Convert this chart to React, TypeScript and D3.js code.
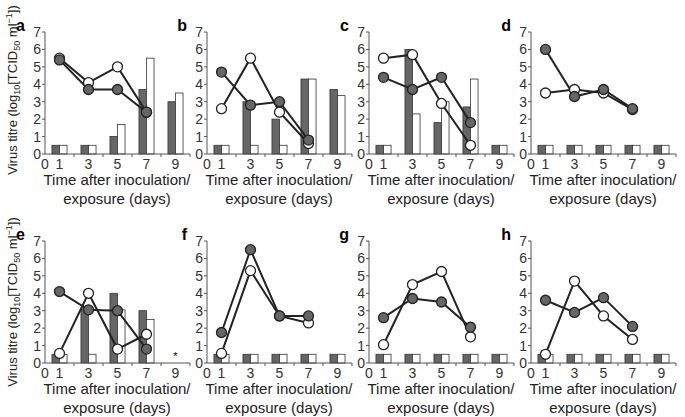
import React from 'react';
import * as d3 from 'd3';

const days = [1, 3, 5, 7, 9];
const lineDays = [1, 3, 5, 7];
const panelIds = ['a', 'b', 'c', 'd', 'e', 'f', 'g', 'h'];

// bar values per panel (dark = inoculated, white = contact); null = not measured
const darkBars: (number | null)[][] = [
  [0.5, 0.5, 1, 3.7, 3],
  [0.5, 3, 2, 4.3, 3.7],
  [0.5, 6, 1.8, 2.7, 0.5],
  [0.5, 0.5, 0.5, 0.5, 0.5],
  [0.5, 3.1, 4, 3, null],
  [0.5, 0.5, 0.5, 0.5, 0.5],
  [0.5, 0.5, 0.5, 0.5, 0.5],
  [0.5, 0.5, 0.5, 0.5, 0.5],
];
const whiteBars: (number | null)[][] = [
  [0.5, 0.5, 1.7, 5.5, 3.5],
  [0.5, 0.5, 0.5, 4.3, 3.35],
  [0.5, 2.3, 3.0, 4.3, 0.5],
  [0.5, 0.5, 0.5, 0.5, 0.5],
  [0.5, 0.5, 3.05, 2.5, null],
  [0.5, 0.5, 0.5, 0.5, 0.5],
  [0.5, 0.5, 0.5, 0.5, 0.5],
  [0.5, 0.5, 0.5, 0.5, 0.5],
];
const filledLine: number[][] = [
  [5.4, 3.7, 3.7, 2.4],
  [4.7, 2.8, 3.0, 0.8],
  [4.4, 3.7, 4.4, 1.8],
  [6.0, 3.3, 3.7, 2.6],
  [4.1, 3.05, 3.0, 0.8],
  [1.75, 6.5, 2.7, 2.7],
  [2.6, 3.7, 3.5, 2.05],
  [3.6, 2.9, 3.75, 2.1],
];
const openLine: number[][] = [
  [5.5, 4.1, 5.0, 2.4],
  [2.6, 5.5, 2.4, 0.6],
  [5.5, 5.7, 2.9, 0.5],
  [3.5, 3.7, 3.5, 2.55],
  [0.55, 4.0, 0.8, 1.65],
  [0.55, 5.3, 2.7, 2.3],
  [1.05, 4.5, 5.25, 1.5],
  [0.5, 4.7, 2.7, 1.35],
];
const xTickLabels = [0, 1, 3, 5, 7, 9];
const yTicks = [0, 1, 2, 3, 4, 5, 6, 7];

const font = 'Liberation Sans, Arial, sans-serif';
const dark = '#666';
const axisCol = '#555';

const Panel: React.FC<{ i: number }> = ({ i }) => {
  const col = i % 4;
  const row = Math.floor(i / 4);
  const ox = 45 + col * 162;
  const oy = row === 0 ? 154 : 363;
  const x = d3.scaleLinear().domain([0, 10]).range([ox, ox + 145]);
  const y = d3.scaleLinear().domain([0, 7]).range([oy, oy - 122]);
  const bw = x(0.52) - x(0);
  const line = d3.line<number>().x((_, k) => x(lineDays[k])).y(v => y(v));
  return (
    <g>
      {days.map((d, k) => {
        const dv = darkBars[i][k];
        const wv = whiteBars[i][k];
        return (
          <g key={d}>
            {dv !== null && (
              <rect x={x(d) - bw} y={y(dv)} width={bw} height={y(0) - y(dv)} fill={dark} stroke="#333" strokeWidth={0.8} />
            )}
            {wv !== null && (
              <rect x={x(d)} y={y(wv)} width={bw} height={y(0) - y(wv)} fill="#fff" stroke="#333" strokeWidth={0.8} />
            )}
          </g>
        );
      })}
      {i === 4 && (
        <text x={x(9)} y={y(0.2)} fontSize={11} textAnchor="middle" fontFamily={font}>*</text>
      )}
      <line x1={ox} x2={ox} y1={y(0)} y2={y(7)} stroke={axisCol} strokeWidth={1} />
      <line x1={ox} x2={x(10)} y1={y(0)} y2={y(0)} stroke={axisCol} strokeWidth={1} />
      {yTicks.map(t => (
        <g key={t}>
          <line x1={ox - 3} x2={ox} y1={y(t)} y2={y(t)} stroke={axisCol} />
          <text x={ox - 4} y={y(t) + 5} textAnchor="end" fontSize={14} fill="#333" fontFamily={font}>{t}</text>
        </g>
      ))}
      {[2, 4, 6, 8, 10].map(t => (
        <line key={t} x1={x(t)} x2={x(t)} y1={y(0)} y2={y(0) + 3} stroke={axisCol} />
      ))}
      {xTickLabels.map(t => (
        <text key={t} x={x(t)} y={y(0) + 15} textAnchor="middle" fontSize={14} fill="#333" fontFamily={font}>{t}</text>
      ))}
      <path d={line(openLine[i]) || ''} fill="none" stroke="#222" strokeWidth={2} />
      <path d={line(filledLine[i]) || ''} fill="none" stroke="#222" strokeWidth={2} />
      {openLine[i].map((v, k) => (
        <circle key={'o' + k} cx={x(lineDays[k])} cy={y(v)} r={5} fill="#fff" stroke="#222" strokeWidth={1.3} />
      ))}
      {filledLine[i].map((v, k) => (
        <circle key={'f' + k} cx={x(lineDays[k])} cy={y(v)} r={5} fill={dark} stroke="#222" strokeWidth={1.3} />
      ))}
      <text x={ox - 20} y={y(7) - 1} textAnchor="end" fontSize={16} fontWeight="bold" fontFamily={font}>{panelIds[i]}</text>
      <text x={ox + 72} y={y(0) + 31} textAnchor="middle" fontSize={15} fill="#222" fontFamily={font}>Time after inoculation/</text>
      <text x={ox + 72} y={y(0) + 50} textAnchor="middle" fontSize={15} fill="#222" fontFamily={font}>exposure (days)</text>
    </g>
  );
};

const YLabel: React.FC<{ cy: number }> = ({ cy }) => (
  <text transform={`translate(17,${cy}) rotate(-90)`} textAnchor="middle" fontSize={13} fill="#222" fontFamily={font}>
    Virus titre (log<tspan fontSize={9} dy={3}>10</tspan><tspan dy={-3}>[TCID</tspan>
    <tspan fontSize={9} dy={3}>50</tspan><tspan dy={-3}> ml</tspan>
    <tspan fontSize={9} dy={-5}>−1</tspan><tspan dy={5}>])</tspan>
  </text>
);

export default function App() {
  return (
    <svg width={685} height={417} style={{ position: 'absolute', left: 0, top: 0, background: '#fff' }}>
      <YLabel cy={90} />
      <YLabel cy={302} />
      {panelIds.map((_, i) => <Panel key={i} i={i} />)}
    </svg>
  );
}
